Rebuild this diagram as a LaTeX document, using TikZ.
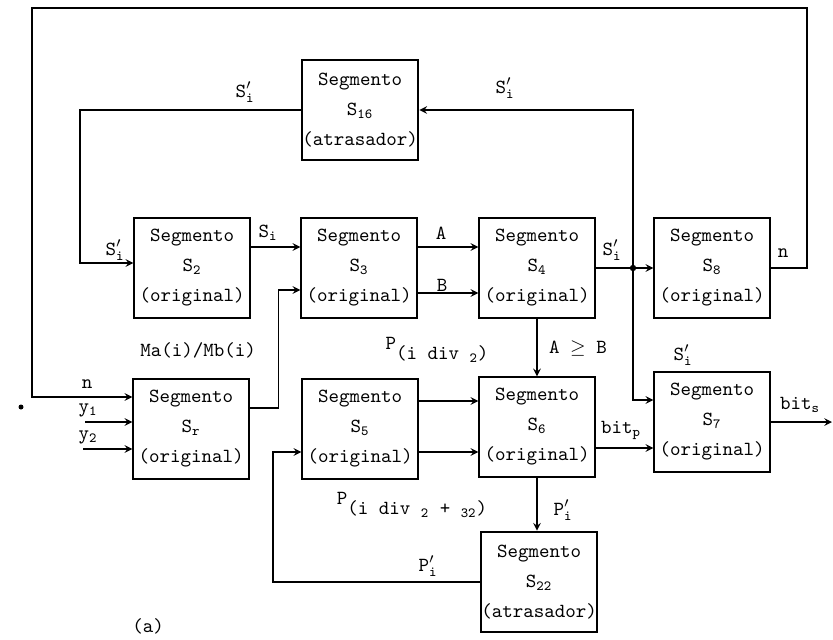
\documentclass[tikz,border=0pt]{standalone}
\newcommand{\Slinha}{$\mathtt{S}'_{\mathtt{i}}$}
\newcommand{\Plinha}{$\mathtt{P}'_{\mathtt{i}}$}
\begin{document}
\begin{tikzpicture}[>=stealth, x=0.5pt, y=-0.5pt, line width=0.7pt,
    seg/.style={draw, minimum width=58pt, minimum height=50pt, inner sep=0pt,
      align=center, font=\ttfamily\fontsize{10}{15}\selectfont},
    atr/.style={seg, line width=1.4pt},
    lbl/.style={font=\ttfamily\fontsize{10}{12}\selectfont, inner sep=1pt}]
    \useasboundingbox (0,0) rectangle (833,639);
    % segmentos
    \node[atr] (S16) at (360,110) {Segmento\\S\textsubscript{16}\\(atrasador)};
    \node[seg] (S2) at (192,268) {Segmento\\S\textsubscript{2}\\(original)};
    \node[seg] (S3) at (359,268) {Segmento\\S\textsubscript{3}\\(original)};
    \node[seg] (S4) at (537,268) {Segmento\\S\textsubscript{4}\\(original)};
    \node[seg] (S8) at (712,268) {Segmento\\S\textsubscript{8}\\(original)};
    \node[seg] (Sr) at (191,429) {Segmento\\S\textsubscript{r}\\(original)};
    \node[seg] (S5) at (360,429) {Segmento\\S\textsubscript{5}\\(original)};
    \node[seg] (S6) at (537,427) {Segmento\\S\textsubscript{6}\\(original)};
    \node[seg] (S7) at (712,422) {Segmento\\S\textsubscript{7}\\(original)};
    \node[atr] (S22) at (539,582) {Segmento\\S\textsubscript{22}\\(atrasador)};
    % pontos de apoio
    \coordinate (jn) at (633,268);
    \coordinate (fbl) at (80,110);
    \coordinate (ftl) at (32,8);
    \coordinate (ftr) at (807,8);
    \coordinate (fbb) at (273,582);
    \coordinate (y1in) at (85,422);
    \coordinate (y2in) at (83,449);
    \coordinate (outs) at (832,422);
    \node[circle, fill, inner sep=0pt, minimum size=2.5pt] (pt) at (21,407) {};
    % ligacoes
    \draw[->] (S16.west) -- (fbl) |- ([yshift=2.5pt]S2.west);
    \draw[->] ([yshift=10.5pt]S2.east) -- ([yshift=10.5pt]S3.west);
    \draw[->] ([yshift=10.5pt]S3.east) -- ([yshift=10.5pt]S4.west);
    \draw[->] ([yshift=-12.5pt]S3.east) -- ([yshift=-12.5pt]S4.west);
    \draw[->] (S4.east) -- (S8.west);
    \fill (jn) circle (1.6pt);
    \draw[->] (jn) |- (S16.east);
    \draw[->] (jn) |- ([yshift=11pt]S7.west);
    \draw[->] (S8.east) -- (S8.east -| ftr) -- (ftr) -- (ftl) |- ([yshift=16pt]Sr.west);
    \draw[->] (y1in) -- (y1in -| Sr.west);
    \draw[->] (y2in) -- (y2in -| Sr.west);
    \draw[->] ([yshift=10.5pt]Sr.east) -- ++(29,0) |- ([yshift=-11pt]S3.west);
    \draw[->] (S4.south) -- (S6.north);
    \draw[->] ([yshift=14pt]S5.east) -- ([yshift=14pt]S5.east -| S6.west);
    \draw[->] ([yshift=-11.5pt]S5.east) -- ([yshift=-11.5pt]S5.east -| S6.west);
    \draw[->] ([yshift=-10.5pt]S6.east) -- ([yshift=-10.5pt]S6.east -| S7.west);
    \draw[->] (S7.east) -- (outs);
    \draw[->] (S6.south) -- (S6.south |- S22.north);
    \draw[->] (S22.west) -- (fbb) |- ([yshift=-11.5pt]S5.west);
    % rotulos
    \node[lbl] (l1) at (245,92) {\Slinha};
    \node[lbl] (l2) at (505,88) {\Slinha};
    \node[lbl] (l3) at (115,250) {\Slinha};
    \node[lbl] (l4) at (268,233) {S\textsubscript{i}};
    \node[lbl] (lA) at (441,233) {A};
    \node[lbl] (lB) at (442,285) {B};
    \node[lbl] (l5) at (612,250) {\Slinha};
    \node[lbl] (ln) at (783,253) {n};
    \node[lbl] (lM) at (198,350) {Ma(i)/Mb(i)};
    \node[lbl] (lP1) at (437,350) {\raisebox{1.2ex}{P}(i div \textsubscript{2})};
    \node[lbl] (lAB) at (578,348) {A $\geq$ B};
    \node[lbl] (l6) at (683,355) {\Slinha};
    \node[lbl] (lbp) at (621,430) {bit\textsubscript{p}};
    \node[lbl] (lbs) at (800,405) {bit\textsubscript{s}};
    \node[lbl] (lnr) at (87,384) {n};
    \node[lbl] (ly1) at (88,410) {y\textsubscript{1}};
    \node[lbl] (ly2) at (88,437) {y\textsubscript{2}};
    \node[lbl] (lP2) at (412,505) {\raisebox{1.2ex}{P}(i div \textsubscript{2} + \textsubscript{32})};
    \node[lbl] (l7) at (563,510) {\Plinha};
    \node[lbl] (l8) at (428,566) {\Plinha};
    \node[lbl] (la) at (148,626) {(a)};
\end{tikzpicture}
\end{document}
